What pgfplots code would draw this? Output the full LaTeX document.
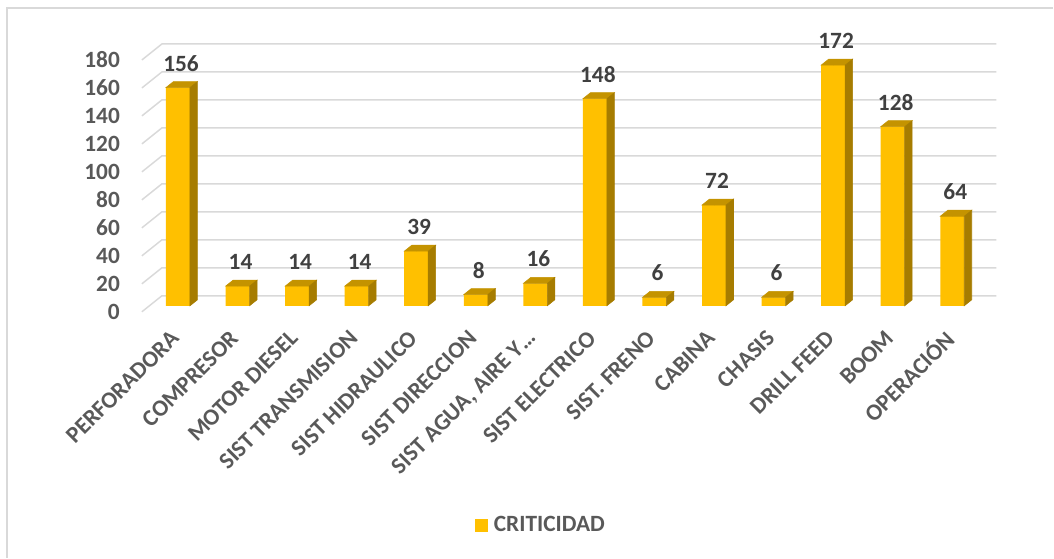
\documentclass[border=0pt]{standalone}
\usepackage{fontspec}
\setmainfont{Carlito}
\usepackage{pgfplots}
\usepackage{pgfplotstable}
\pgfplotsset{compat=1.18}
\definecolor{barfront}{HTML}{FFC000}
\definecolor{barside}{HTML}{A67C00}
\definecolor{bartop}{HTML}{C49300}
\definecolor{gridc}{HTML}{D9D9D9}
\definecolor{txt}{HTML}{595959}
\definecolor{lbl}{HTML}{404040}
\newcommand{\cfont}{\fontsize{17.5}{21}\selectfont\bfseries}
\pgfplotstableread{
x y
0 156
1 14
2 14
3 14
4 39
5 8
6 16
7 148
8 6
9 72
10 6
11 172
12 128
13 64
}\datatable
\begin{document}
\cfont
\begin{tikzpicture}
\path (0,0) rectangle (790.5pt,418.5pt);
\draw[gridc, line width=1.1pt] (5.25pt,0) -- (5.25pt,412.5pt) -- (790.5pt,412.5pt);
\begin{axis}[
  at={(112.125pt,189pt)}, anchor=south west,
  x=44.7pt, y=1.05pt,
  xmin=-0.48, xmax=13.53, ymin=0, ymax=180,
  clip=false,
  axis line style={draw=none},
  tick style={draw=none},
  /pgf/number format/assume math mode=true,
  ytick={0,20,...,180},
  xtick={0,...,13},
  xticklabels={PERFORADORA,COMPRESOR,MOTOR DIESEL,SIST TRANSMISION,SIST HIDRAULICO,SIST DIRECCION,{SIST AGUA, AIRE Y…},SIST ELECTRICO,SIST. FRENO,CABINA,CHASIS,DRILL FEED,BOOM,OPERACIÓN},
  xticklabel shift=21.5pt,
  xticklabel style={xshift=-2pt, rotate=45, anchor=east, inner sep=0pt, text=txt, font=\cfont},
  yticklabel style={anchor=east, inner sep=0pt, xshift=-22pt, yshift=-4.5pt, text=txt, font=\cfont},
  legend style={at={(axis description cs:0.468,-0.871)}, anchor=center, draw=none, fill=none, font=\cfont, text=txt, inner sep=0pt,
    nodes={inner sep=0pt}, /tikz/every odd column/.append style={column sep=4.5pt}},
  legend image code/.code={\fill[barfront] (0pt,-4.875pt) rectangle (9.75pt,4.875pt);},
]
\pgfplotsinvokeforeach{0,20,...,180}{
  \draw[gridc, line width=1.1pt] ([shift={(-5.625pt,-4.5pt)}]axis cs:-0.48,#1) -- ([shift={(9.375pt,7.5pt)}]axis cs:-0.48,#1) -- ([shift={(9.375pt,7.5pt)}]axis cs:13.53,#1);
}
\addplot[forget plot, only marks, scatter, point meta=y, mark=*, mark size=0pt,
  mark options={draw=none, fill=none},
  visualization depends on={rawy \as \val},
  scatter/@pre marker code/.code={%
    \pgfmathsetmacro{\hh}{\val*1.05}%
    \fill[bartop] (-9pt,0pt) -- (9pt,0pt) -- (14.625pt,4.5pt) -- (-3.375pt,4.5pt) -- cycle;
    \fill[barside] (9pt,0pt) -- (14.625pt,4.5pt) -- (14.625pt,4.5pt-\hh pt) -- (9pt,-\hh pt) -- cycle;
  },
  scatter/@post marker code/.code={}
] table[x=x,y=y]{\datatable};
\addplot[ybar, bar width=18pt, fill=barfront, draw=none,
  nodes near coords,
  nodes near coords style={font=\cfont, text=lbl, anchor=south, inner sep=0pt, yshift=12pt, xshift=2.25pt}
] table[x=x,y=y]{\datatable};
\addlegendentry{CRITICIDAD}
\end{axis}
\end{tikzpicture}
\end{document}
